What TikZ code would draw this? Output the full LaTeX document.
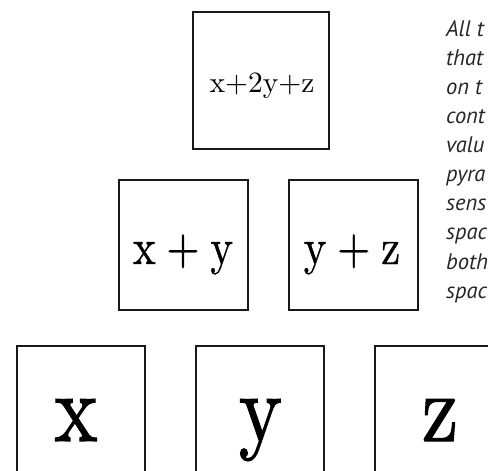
\documentclass[tikz,border=0pt]{standalone}
\usepackage{fontspec}
\newfontfamily\notefont{PT Sans}
\newfontfamily\boxfont{lmroman10-regular.otf}
\newfontfamily\boxfontm{lmroman10-regular.otf}[FakeBold=0.8]
\newfontfamily\boxfontb{lmroman10-regular.otf}[FakeBold=1.4]
\begin{document}
\begin{tikzpicture}[x=1pt,y=1pt,
  box/.style={draw=black!90,line width=1.6pt,inner sep=0pt},
  lbl/.style={anchor=base,inner sep=0pt,transform shape},
  note/.style={anchor=north west,inner sep=0pt,align=left,text=black!85,
    font=\notefont\itshape\fontsize{22.5}{29.1}\selectfont}]
\useasboundingbox (0,0) rectangle (488,-471);
% top
\node[box,minimum width=136,minimum height=137] (t) at (261,-80.5) {};
\node[lbl,font=\boxfont\fontsize{29.5}{32}\selectfont] (tl) at (262,-92) {x+2y+z};
% middle
\node[box,minimum width=129,minimum height=130] (ml) at (183.5,-245) {};
\node[box,minimum width=129,minimum height=130] (mr) at (353.5,-245) {};
\node[lbl,xscale=0.84,font=\boxfontm\fontsize{51}{56}\selectfont] (mll) at (183,-264) {x\hspace{0.25em}+\hspace{0.25em}y};
\node[lbl,xscale=0.84,font=\boxfontm\fontsize{51}{56}\selectfont] (mrl) at (352,-264) {y\hspace{0.25em}+\hspace{0.25em}z};
% bottom
\node[box,minimum width=128,minimum height=148] (bx) at (81,-420) {};
\node[box,minimum width=128,minimum height=148] (by) at (260,-420) {};
\node[box,minimum width=128,minimum height=148] (bz) at (439,-420) {};
\node[lbl,xscale=0.84,font=\boxfontb\fontsize{97}{100}\selectfont] (bxl) at (76,-441) {x};
\node[lbl,xscale=0.84,font=\boxfontb\fontsize{97}{100}\selectfont] (byl) at (260.5,-441) {y};
\node[lbl,xscale=0.84,font=\boxfontb\fontsize{97}{100}\selectfont] (bzl) at (440,-441) {z};
% note
\node[note] (n) at (446,-20) {All t\\that\\on t\\cont\\valu\\pyra\\sens\\spac\\both\\spac};
\end{tikzpicture}
\end{document}
